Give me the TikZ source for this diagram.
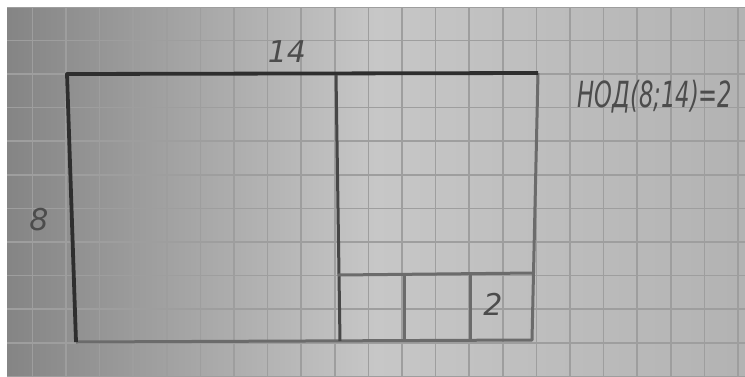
\documentclass[tikz,border=0pt]{standalone}
\usepackage{fontspec}
\setmainfont{DejaVu Sans}
\begin{document}
\begin{tikzpicture}[x=0.5pt,y=-0.5pt,
  pencil/.style={line width=1.5pt,color=black!58,line join=round},
  darkpencil/.style={line width=1.9pt,color=black!82,line join=round},
  gridline/.style={line width=0.8pt,color=black!38},
  hand/.style={font=\itshape\fontsize{15}{15}\selectfont,text=black!70,inner sep=0pt}]
\useasboundingbox (0,0) rectangle (745,376);
\fill[white] (0,0) rectangle (745,376);
\shade[left color=black!48,right color=black!30,middle color=black!22] (7,7) rectangle (745,376);
\begin{scope}
\clip (7,7) rectangle (745,376);
\foreach \k in {-2,...,20} \draw[gridline] ({66+33.6*\k},7) -- ({66+33.6*\k},376);
\foreach \k in {-2,...,9} \draw[gridline] (7,{74+33.6*\k}) -- (745,{74+33.6*\k});
\end{scope}
% main rectangle
\coordinate (tl) at (67,74);
\coordinate (tr) at (538,73);
\coordinate (br) at (532,340);
\coordinate (bl) at (76,342);
\draw[pencil] (tr) -- (br) -- (bl);
\draw[darkpencil] (bl) -- (tl) -- (tr);
\coordinate (m1) at (336,75);
\coordinate (m2) at (340,341);
\draw[pencil,color=black!72] (m1) -- (m2);
\coordinate (h1) at (338,275);
\coordinate (h2) at (534,273);
\draw[pencil] (h1) -- (h2);
\coordinate (v1t) at (404,275);
\coordinate (v1b) at (404,341);
\coordinate (v2t) at (470,274);
\coordinate (v2b) at (470,340);
\draw[pencil] (v1t) -- (v1b);
\draw[pencil] (v2t) -- (v2b);
% labels
\node[hand] (l14) at (287,52) {14};
\node[hand] (l8) at (39,220) {8};
\node[hand] (l2) at (493,304) {2};
\node[hand,font=\itshape\fontsize{18}{18}\selectfont,xscale=0.63] (nod) at (655,97) {НОД(8;14)=2};
\end{tikzpicture}
\end{document}
